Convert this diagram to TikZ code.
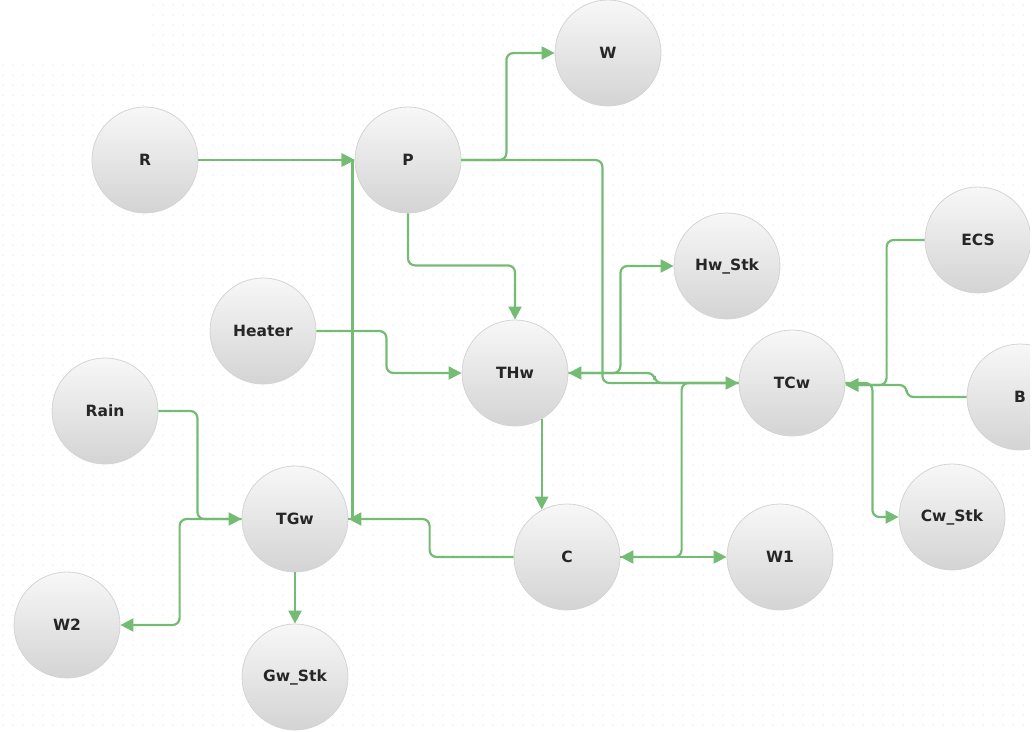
\documentclass[tikz,border=0pt]{standalone}
\usepackage{fontspec}
\setmainfont{DejaVu Sans}
\usetikzlibrary{arrows.meta}
\definecolor{flowgreen}{RGB}{116,188,116}
\tikzset{
  station/.style={circle, minimum size=106pt, inner sep=0pt, draw=black!17, line width=0.8pt,
    top color=black!3, bottom color=black!17, text=black!85,
    font=\bfseries\fontsize{15.5}{18}\selectfont},
  flow/.style={draw=flowgreen, line width=2.2pt, rounded corners=7pt,
    -{Triangle[length=13pt,width=13pt]}}
}
\begin{document}
\begin{tikzpicture}[x=1pt,y=-1pt]
\useasboundingbox (0,0) rectangle (1033,731);
\clip (0,0) rectangle (1030,731);
% dotted background
\begin{scope}[black!9, line width=1.5pt, line cap=round, dash pattern=on 0pt off 10pt]
\foreach \y in {5,15,...,725} {
  \draw (3,\y) -- (1033,\y);
}
\end{scope}
\fill[white] (0,0) rectangle (148,64);
% nodes
\node[station] (W) at (608,53) {W};
\node[station] (R) at (145,160) {R};
\node[station] (P) at (408,160) {P};
\node[station] (HwStk) at (727,266) {Hw\_Stk};
\node[station] (ECS) at (978,240) {ECS};
\node[station] (Heater) at (263,331) {Heater};
\node[station] (THw) at (515,373) {THw};
\node[station] (TCw) at (792,383) {TCw};
\node[station] (B) at (1020,397) {B};
\node[station] (Rain) at (105,411) {Rain};
\node[station] (TGw) at (295,519) {TGw};
\node[station] (C) at (567,557) {C};
\node[station] (W1) at (780,557) {W1};
\node[station] (CwStk) at (952,517) {Cw\_Stk};
\node[station] (W2) at (67,625) {W2};
\node[station] (GwStk) at (295,677) {Gw\_Stk};
% flows
\draw[flow] (R) -- (P);
\draw[flow, sharp corners] (TGw.east) -- ++(4,0) |- (P.west);
\draw[flow] (P.east) -- ++(45,0) |- (W.west);
\draw[flow] (P.east) -- ++(141,0) |- (TCw.west);
\draw[flow] (P.south) -- ++(0,52) -| (THw.north);
\draw[flow] (Heater.east) -- ++(70,0) |- (THw.west);
\draw[flow] (THw.-60) -- ([yshift=-6pt]C.north -| THw.-60);
\draw[flow] (C.west) -- ++(-84,0) |- (TGw.east);
\draw[flow] (Rain.east) -- ++(39,0) |- (TGw.west);
\draw[flow] (TGw.west) -- ++(-62,0) |- (W2.east);
\draw[flow] (TGw.south) -- (GwStk.north);
\draw[flow] (ECS.west) -- ++(-38,0) |- ([yshift=-2pt]TCw.east);
\draw[flow] (B.west) -- ++(-60,0) |- ([yshift=-2pt]TCw.east);
\draw[flow] (TCw.east) -- ++(27,0) |- (CwStk.west);
\draw[flow] (TCw.west) -- ++(-84,0) |- (THw.east);
\draw[flow] (THw.east) -- ++(52,0) |- (HwStk.west);
\draw[flow] (TCw.west) -- ++(-57,0) |- (C.east);
\draw[flow] (C.east) -- (W1.west);
\end{tikzpicture}
\end{document}
